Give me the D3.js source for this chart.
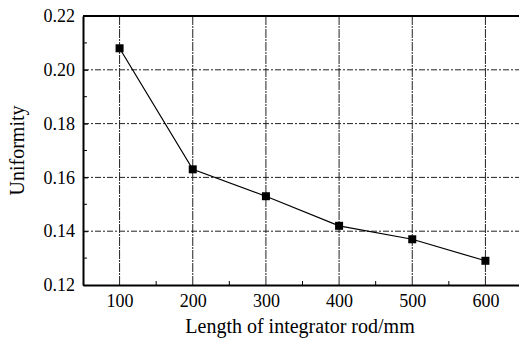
<!DOCTYPE html>
<html>
<head>
<meta charset="utf-8">
<script src="https://cdn.jsdelivr.net/npm/d3@7"></script>
<style>
  body { margin: 0; background: #fff; }
  svg { display: block; }
  text { font-family: "Times New Roman", "Liberation Serif", "DejaVu Serif", serif; fill: #000; }
</style>
</head>
<body>
<div id="chart"></div>
<script>
// data
const lengths = [100, 200, 300, 400, 500, 600];
const uniformity = [0.208, 0.163, 0.153, 0.142, 0.137, 0.129];
const xTicks = [100, 200, 300, 400, 500, 600];
const yTicks = [0.12, 0.14, 0.16, 0.18, 0.20, 0.22];

const W = 519, H = 341;
const margin = {top: 16, right: -3, bottom: 56, left: 83};
const width = W - margin.left - margin.right;
const height = H - margin.top - margin.bottom;

const svg = d3.select("#chart").append("svg")
  .attr("width", W).attr("height", H);

const g = svg.append("g")
  .attr("transform", "translate(" + margin.left + "," + margin.top + ")");

const x = d3.scaleLinear().domain([50, 650]).range([0, width]);
const y = d3.scaleLinear().domain([0.12, 0.22]).range([height, 0]);

// grid lines (dash-dot)
g.selectAll(".vgrid").data(xTicks).enter().append("line")
  .attr("x1", d => x(d)).attr("x2", d => x(d))
  .attr("y1", 0).attr("y2", height)
  .attr("stroke", "#222").attr("stroke-width", 1)
  .attr("stroke-dasharray", "9,1,2,1");

g.selectAll(".hgrid").data(yTicks.slice(1, -1)).enter().append("line")
  .attr("x1", 0).attr("x2", width)
  .attr("y1", d => y(d)).attr("y2", d => y(d))
  .attr("stroke", "#222").attr("stroke-width", 1)
  .attr("stroke-dasharray", "6,2,2,2");

// axes
const xAxis = g.append("g")
  .attr("transform", "translate(0," + height + ")")
  .call(d3.axisBottom(x).tickValues(xTicks).tickSizeInner(0).tickSizeOuter(0).tickPadding(9));
xAxis.select(".domain").attr("stroke-width", 2);
xAxis.selectAll("text").attr("font-size", 18);

// minor x ticks (inward)
g.selectAll(".xminor").data([150, 250, 350, 450, 550, 650]).enter().append("line")
  .attr("x1", d => x(d)).attr("x2", d => x(d))
  .attr("y1", height).attr("y2", height - 4)
  .attr("stroke", "#000");

const yAxis = g.append("g")
  .call(d3.axisLeft(y).tickValues(yTicks).tickFormat(d3.format(".2f"))
    .tickSizeInner(-5).tickSizeOuter(0).tickPadding(8));
yAxis.select(".domain").attr("stroke-width", 2);
yAxis.selectAll("text").attr("font-size", 18);

// minor y ticks (inward)
g.selectAll(".yminor").data([0.13, 0.15, 0.17, 0.19, 0.21]).enter().append("line")
  .attr("x1", 0).attr("x2", 4)
  .attr("y1", d => y(d)).attr("y2", d => y(d))
  .attr("stroke", "#000");

// top frame line
g.append("line")
  .attr("x1", 0).attr("x2", width)
  .attr("y1", 0).attr("y2", 0)
  .attr("stroke", "#000").attr("stroke-width", 2);

// data line
const line = d3.line()
  .x((d, i) => x(lengths[i]))
  .y(d => y(d));

g.append("path")
  .datum(uniformity)
  .attr("fill", "none")
  .attr("stroke", "#000")
  .attr("stroke-width", 1.2)
  .attr("d", line);

g.selectAll(".pt").data(uniformity).enter().append("rect")
  .attr("x", (d, i) => x(lengths[i]) - 4)
  .attr("y", d => y(d) - 4)
  .attr("width", 8).attr("height", 8)
  .attr("fill", "#000");

// axis titles
svg.append("text")
  .attr("x", 300).attr("y", 333)
  .attr("text-anchor", "middle").attr("font-size", 20)
  .text("Length of integrator rod/mm");

svg.append("text")
  .attr("transform", "translate(24," + (margin.top + height / 2) + ") rotate(-90)")
  .attr("text-anchor", "middle").attr("font-size", 20)
  .text("Uniformity");
</script>
</body>
</html>
